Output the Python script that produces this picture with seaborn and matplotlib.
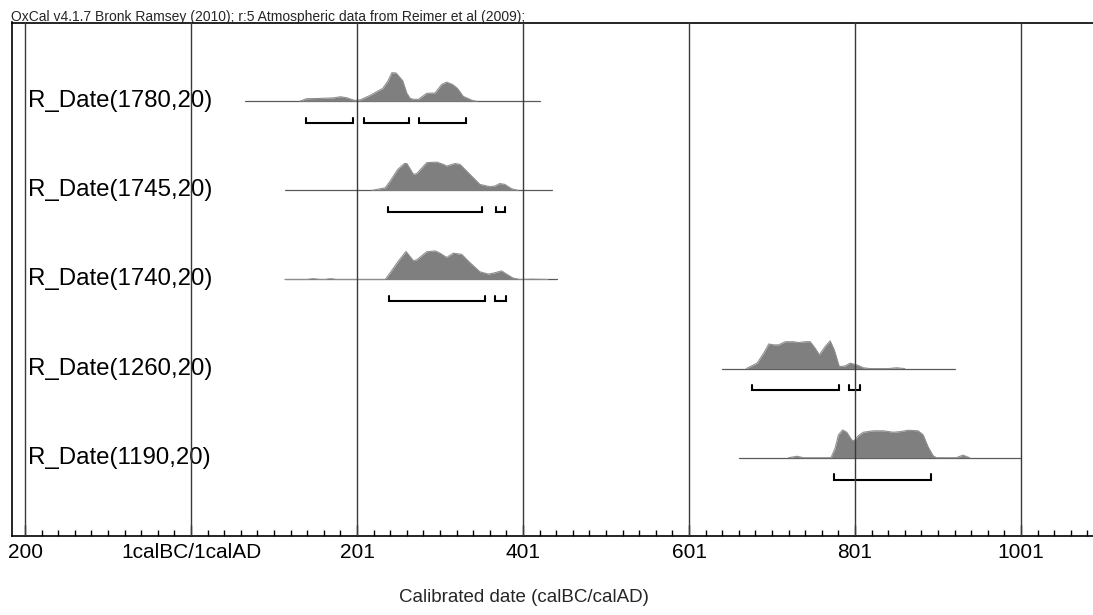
import numpy as np
import pandas as pd
import matplotlib
matplotlib.use("Agg")
import matplotlib.pyplot as plt
from matplotlib.ticker import FixedLocator, MultipleLocator
import seaborn as sns

# ---------------- data ----------------
title = "OxCal v4.1.7 Bronk Ramsey (2010); r:5 Atmospheric data from Reimer et al (2009);"
x_label = "Calibrated date (calBC/calAD)"
labels = ["R_Date(1780,20)", "R_Date(1745,20)", "R_Date(1740,20)",
          "R_Date(1260,20)", "R_Date(1190,20)"]

tick_values = [-200, 0, 200, 400, 600, 800, 1000]
tick_labels = ["200", "1calBC/1calAD", "201", "401", "601", "801", "1001"]

# calibrated probability (relative) per date, axis years
r1780_years = [131, 139, 155, 172, 180, 188, 197, 204, 216, 231, 237, 242, 247, 255,
               260, 264, 268, 274, 284, 294, 302, 308, 315, 321, 328, 340, 345]
r1780_prob = [0, .09, .10, .12, .16, .12, .03, .05, .21, .45, .70, 1.0, .99, .72,
              .28, .10, .07, .07, .28, .29, .59, .67, .59, .45, .17, .02, 0]

r1745_years = [218, 234, 240, 249, 257, 260, 268, 272, 284, 296, 304, 308, 318, 324,
               336, 348, 360, 366, 372, 378, 386, 394]
r1745_prob = [0, .09, .33, .73, .94, .94, .56, .59, .97, .99, .91, .85, .94, .91,
              .56, .21, .13, .15, .24, .21, .06, 0]

r1740_years = [113, 140, 147, 155, 162, 168, 175, 225, 234, 240, 250, 259, 268, 272,
               284, 294, 300, 308, 316, 326, 336, 348, 358, 364, 374, 380, 388, 396,
               410, 430]
r1740_prob = [0, 0, .03, 0, 0, .03, 0, 0, 0, .24, .65, .98, .65, .69,
              .97, 1.0, .92, .77, .92, .88, .59, .27, .19, .22, .30, .19, .05, 0,
              .01, 0]

r1260_years = [669, 682, 690, 696, 702, 708, 716, 726, 732, 740, 746, 752, 757, 764,
               770, 775, 781, 788, 794, 802, 810, 818, 840, 850, 860]
r1260_prob = [0, .19, .54, .86, .83, .83, .94, .94, .91, .94, .94, .71, .48, .77,
              .97, .65, .07, .09, .19, .13, .03, 0, 0, .03, 0]

r1190_years = [720, 730, 738, 771, 776, 780, 785, 790, 796, 799, 804, 810, 822, 834,
               846, 854, 864, 876, 882, 888, 894, 898, 922, 930, 938]
r1190_prob = [0, .05, 0, 0, .33, .80, .97, .89, .62, .59, .77, .89, .94, .94,
              .89, .91, .96, .94, .80, .38, .07, 0, 0, .09, 0]

# extent of each calibration line
line_start = [65, 113, 113, 640, 660]
line_end = [420, 435, 441, 920, 1000]

# 95.4% ranges
ranges = [
    [(139, 195), (208, 263), (275, 331)],
    [(237, 351), (368, 378)],
    [(239, 354), (366, 380)],
    [(676, 781), (793, 806)],
    [(775, 891)],
]

years_list = [r1780_years, r1745_years, r1740_years, r1260_years, r1190_years]
prob_list = [r1780_prob, r1745_prob, r1740_prob, r1260_prob, r1190_prob]

# ---------------- style ----------------
sns.set_theme(style="white")
plt.rcParams['font.family'] = ['Liberation Sans', 'DejaVu Sans']

W, H = 1093, 615
fig = plt.figure(figsize=(W / 100, H / 100), dpi=100)
left_px, top_px, bottom_px = 11.5, 22.5, 536
ax = fig.add_axes([left_px / W, 1 - bottom_px / H, 1 - left_px / W + 0.01,
                   (bottom_px - top_px) / H])

PEAK = 0.321      # peak height in row units
BR = 0.245        # bracket offset below baseline
TK = 0.06         # bracket tick height

for i, (lab, yrs, prb) in enumerate(zip(labels, years_list, prob_list)):
    sns.lineplot(x=[line_start[i], line_end[i]], y=[i, i], ax=ax,
                 color="#5a5a5a", lw=0.9, zorder=2)
    yrs_a = np.asarray(yrs, float)
    top = i - PEAK * np.asarray(prb, float)
    ax.fill_between(yrs_a, i, top, color="#7f7f7f", lw=0, zorder=3)
    sns.lineplot(x=yrs_a, y=top, ax=ax, color="#8f8f8f", lw=0.8,
                 sort=False, estimator=None, zorder=3)
    for a, b in ranges[i]:
        ax.plot([a, a, b, b], [i + BR - TK, i + BR, i + BR, i + BR - TK],
                color="black", lw=1.5, zorder=4, solid_joinstyle="miter")
    ax.text(-196.5, i, lab, ha="left", va="center", fontsize=17.3, color="black",
            zorder=5)

for v in tick_values:
    ax.axvline(v, color="#3a3a3a", lw=1.0, zorder=6)

ax.set_xlim(-216.3, 1086.7 + 0.01 * W / 0.83)
ax.set_ylim((bottom_px - 101.3) / 89.1, (top_px - 101.3) / 89.1)
ax.xaxis.set_major_locator(FixedLocator(tick_values))
ax.set_xticklabels(tick_labels)
ax.xaxis.set_minor_locator(MultipleLocator(20))
ax.tick_params(axis="x", which="major", direction="in", length=8, width=1,
               labelsize=15, pad=5, colors="black", bottom=True)
ax.tick_params(axis="x", which="minor", direction="in", length=4, width=1,
               bottom=True, colors="black")
ax.set_yticks([])
for s in ["left", "top", "bottom"]:
    ax.spines[s].set_color("black")
    ax.spines[s].set_linewidth(1.2)
ax.spines["right"].set_visible(False)

ax.set_xlabel(x_label, fontsize=13.5)
ax.xaxis.set_label_coords(524 / W, 1 - 598 / H, transform=fig.transFigure)
ax.xaxis.label.set_va("center")

fig.text(11 / W, 1 - 20.5 / H, title, fontsize=10, va="baseline", ha="left")

fig.savefig("out.png", dpi=100)
